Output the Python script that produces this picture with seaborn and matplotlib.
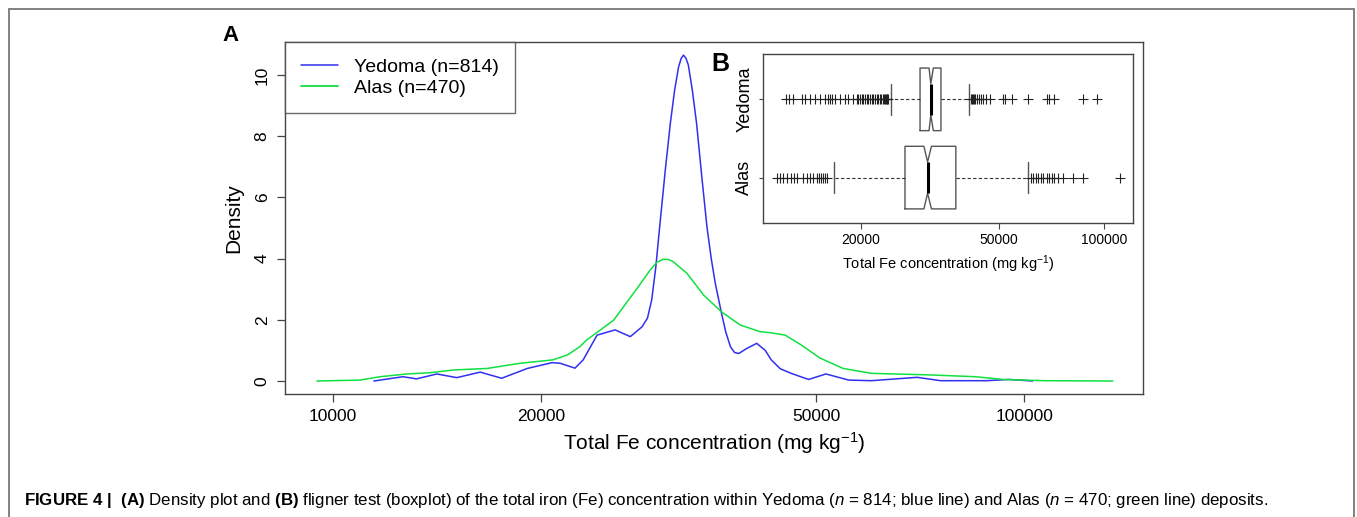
import numpy as np
import pandas as pd
import matplotlib
matplotlib.use("Agg")
import matplotlib.pyplot as plt
from matplotlib.patches import Rectangle
from matplotlib.lines import Line2D
from matplotlib.ticker import FixedLocator, NullLocator
import seaborn as sns

# Panel A: density curves (x in mg/kg, log axis)
yedoma_conc = [11460, 12620, 13210, 14130, 15100, 16330, 17540, 19100, 20750, 21310,
               22390, 23010, 24100, 25590, 26920, 27990, 28500, 28910, 29300, 29720,
               30250, 30760, 31200, 31620, 31900, 32140, 32400, 32660, 33100, 33570,
               34150, 34750, 35250, 35730, 36480, 37000, 37580, 38100, 38640, 39720,
               41020, 42200, 43050, 44360, 46010, 48750, 51640, 55720, 60100, 69980,
               75680, 88100, 95060, 102800]
yedoma_dens = [0.0, 0.14, 0.07, 0.23, 0.11, 0.29, 0.09, 0.41, 0.60, 0.58,
               0.42, 0.69, 1.50, 1.67, 1.45, 1.77, 2.05, 2.65, 3.70, 5.15,
               6.90, 8.42, 9.50, 10.27, 10.55, 10.65, 10.55, 10.33, 9.50, 8.42,
               6.70, 5.04, 4.00, 3.19, 2.21, 1.60, 1.12, 0.93, 0.90, 1.07,
               1.23, 1.00, 0.69, 0.40, 0.25, 0.05, 0.23, 0.03, 0.01, 0.12,
               0.01, 0.01, 0.05, 0.0]

alas_conc = [9480, 10940, 11700, 12790, 13800, 14930, 16710, 18660, 20800, 21830,
             22750, 23280, 25470, 27540, 28770, 29400, 30060, 30600, 31050, 32510,
             34360, 36480, 38820, 41500, 42850, 45080, 47400, 50650, 54700, 60100,
             72780, 84920, 93330, 106700, 134300]
alas_dens = [0.0, 0.03, 0.14, 0.23, 0.27, 0.36, 0.41, 0.58, 0.69, 0.85,
             1.12, 1.34, 1.99, 3.03, 3.63, 3.88, 3.98, 3.97, 3.90, 3.52,
             2.81, 2.26, 1.83, 1.61, 1.58, 1.50, 1.20, 0.75, 0.41, 0.25,
             0.20, 0.14, 0.05, 0.01, 0.0]

legend_labels = ["Yedoma (n=814)", "Alas (n=470)"]
main_ticks = [10000, 20000, 50000, 100000]
density_ticks = [0, 2, 4, 6, 8, 10]

# Panel B: notched boxplot statistics
box_groups = ["Alas", "Yedoma"]
box_whislo = [16700, 24400]
box_q1 = [26770, 29580]
box_med = [31100, 31770]
box_q3 = [37500, 33980]
box_whishi = [60340, 41000]
box_cilo = [30350, 31400]
box_cihi = [31900, 32300]
alas_fliers = [11440, 11700, 11950, 12280, 12550, 12830, 13050, 13650, 13950, 14270,
               14580, 14910, 15180, 15340, 15510, 15720, 15930,
               61530, 62630, 63750, 64740, 65750, 66930, 68420, 69640, 70720, 71820,
               73910, 76400, 81280, 87200, 111200]
yedoma_fliers = [12170, 12440, 12770, 13500, 13800, 14270, 14750, 15240, 15750, 16110,
                 16290, 16470, 16840, 17400, 17990, 18390, 19010, 19430, 19650, 19870,
                 20100, 20310, 20500, 20760, 21000, 21230, 21450, 21700, 21950, 22180,
                 22400, 22680, 22900, 23180, 23300, 23440, 23550, 23700, 23800, 23960,
                 41350, 41630, 41910, 42280, 42650, 43040, 43610, 44190, 44980, 45770,
                 46990, 51130, 51810, 54260, 60330, 68420, 69480, 71990, 87200, 95680]
inset_ticks = [20000, 50000, 100000]

blue = "#3030f0"
green = "#10e040"
edge = "#444444"

sns.set_theme(style="white")
plt.rcParams["font.family"] = ["Liberation Sans", "DejaVu Sans"]
plt.rcParams["mathtext.fontset"] = "custom"
plt.rcParams["mathtext.rm"] = "Liberation Sans"
plt.rcParams["mathtext.it"] = "Liberation Sans:italic"
plt.rcParams["mathtext.bf"] = "Liberation Sans:bold"
for key in ["text.color", "axes.labelcolor", "xtick.color", "ytick.color"]:
    plt.rcParams[key] = "black"

fig = plt.figure(figsize=(13.57, 5.17), dpi=100)
fig.patch.set_facecolor("white")

# outer frame of the figure
fig.patches.append(Rectangle((9 / 1357, -0.1), 1345 / 1357, 1.0826, transform=fig.transFigure,
                             fill=False, edgecolor="#777777", linewidth=1.3))

# ---- panel A: density plot
ax = fig.add_axes([0.2100, 0.2379, 0.6323, 0.6809])
df = pd.concat([
    pd.DataFrame({"conc": yedoma_conc, "density": yedoma_dens, "deposit": legend_labels[0]}),
    pd.DataFrame({"conc": alas_conc, "density": alas_dens, "deposit": legend_labels[1]}),
])
sns.lineplot(data=df, x="conc", y="density", hue="deposit", estimator=None,
             palette={legend_labels[0]: blue, legend_labels[1]: green},
             linewidth=1.1, ax=ax, legend=False)
ax.set_xscale("log")
ax.set_xlim(8522, 148500)
ax.set_ylim(-0.425, 11.08)
ax.xaxis.set_major_locator(FixedLocator(main_ticks))
ax.xaxis.set_minor_locator(NullLocator())
ax.set_xticklabels([str(t) for t in main_ticks])
ax.set_yticks(density_ticks)
ax.set_yticklabels([str(t) for t in density_ticks], rotation=90, va="center")
ax.tick_params(axis="both", direction="out", length=6, width=0.9, color=edge,
               labelsize=12.5, pad=5, bottom=True, left=True)
ax.set_xlabel("Total Fe concentration (mg kg$^{-1}$)", fontsize=15, labelpad=4)
ax.set_ylabel("Density", fontsize=15, labelpad=8)
for s in ax.spines.values():
    s.set_color(edge)
    s.set_linewidth(1.0)

handles = [Line2D([], [], color=blue, lw=1.1), Line2D([], [], color=green, lw=1.3)]
leg = ax.legend(handles, legend_labels, loc="upper left", fontsize=14, frameon=True,
                fancybox=False, edgecolor=edge, borderaxespad=0, borderpad=0.85,
                labelspacing=0.15, handlelength=1.9, handletextpad=0.8)
leg.get_frame().set_linewidth(1.0)

fig.text(0.1695, 0.9304, "A", fontsize=16, fontweight="bold", ha="center", va="center")

# ---- panel B: notched boxplot inset
axb = fig.add_axes([0.5623, 0.5687, 0.2727, 0.3269])
stats = []
fliers = [alas_fliers, yedoma_fliers]
for i, g in enumerate(box_groups):
    stats.append({"label": g, "whislo": box_whislo[i], "q1": box_q1[i], "med": box_med[i],
                  "q3": box_q3[i], "whishi": box_whishi[i], "cilo": box_cilo[i],
                  "cihi": box_cihi[i], "fliers": fliers[i]})
axb.bxp(stats, positions=[1, 2], widths=0.8, capwidths=0.4, orientation="horizontal",
        shownotches=True, showfliers=True,
        boxprops=dict(color="#555555", linewidth=1.0),
        whiskerprops=dict(color="#333333", linewidth=0.8, linestyle=(0, (3, 2))),
        capprops=dict(color="#555555", linewidth=1.0),
        medianprops=dict(color="black", linewidth=2.2),
        flierprops=dict(marker="+", markersize=7, markeredgewidth=0.8,
                        markeredgecolor="#222222", linestyle="none"))
axb.set_xscale("log")
axb.set_xlim(10450, 121400)
axb.set_ylim(0.42, 2.58)
axb.xaxis.set_major_locator(FixedLocator(inset_ticks))
axb.xaxis.set_minor_locator(NullLocator())
axb.set_xticklabels([str(t) for t in inset_ticks])
axb.set_yticks([1, 2])
axb.set_yticklabels(box_groups, rotation=90, va="center", fontsize=13)
axb.tick_params(axis="x", direction="out", length=4, width=0.8, color=edge,
                labelsize=10, pad=3, bottom=True)
axb.tick_params(axis="y", direction="out", length=3, width=0.8, color=edge, pad=4, left=True)
axb.set_xlabel("Total Fe concentration (mg kg$^{-1}$)", fontsize=10.5, labelpad=5)
for s in axb.spines.values():
    s.set_color(edge)
    s.set_linewidth(1.0)
axb.set_facecolor("white")

fig.text(0.5306, 0.876, "B", fontsize=18, fontweight="bold", ha="center", va="center")

# ---- caption
caption = (r"$\mathbf{FIGURE\ 4\ |\ \ (A)}$ Density plot and $\mathbf{(B)}$ fligner test (boxplot) "
           r"of the total iron (Fe) concentration within Yedoma ($n$ = 814; blue line) and "
           r"Alas ($n$ = 470; green line) deposits.")
fig.text(24 / 1357, 1 - 500 / 517, caption, fontsize=12.2, ha="left", va="center")

fig.savefig("out.png", dpi=100, facecolor="white")
